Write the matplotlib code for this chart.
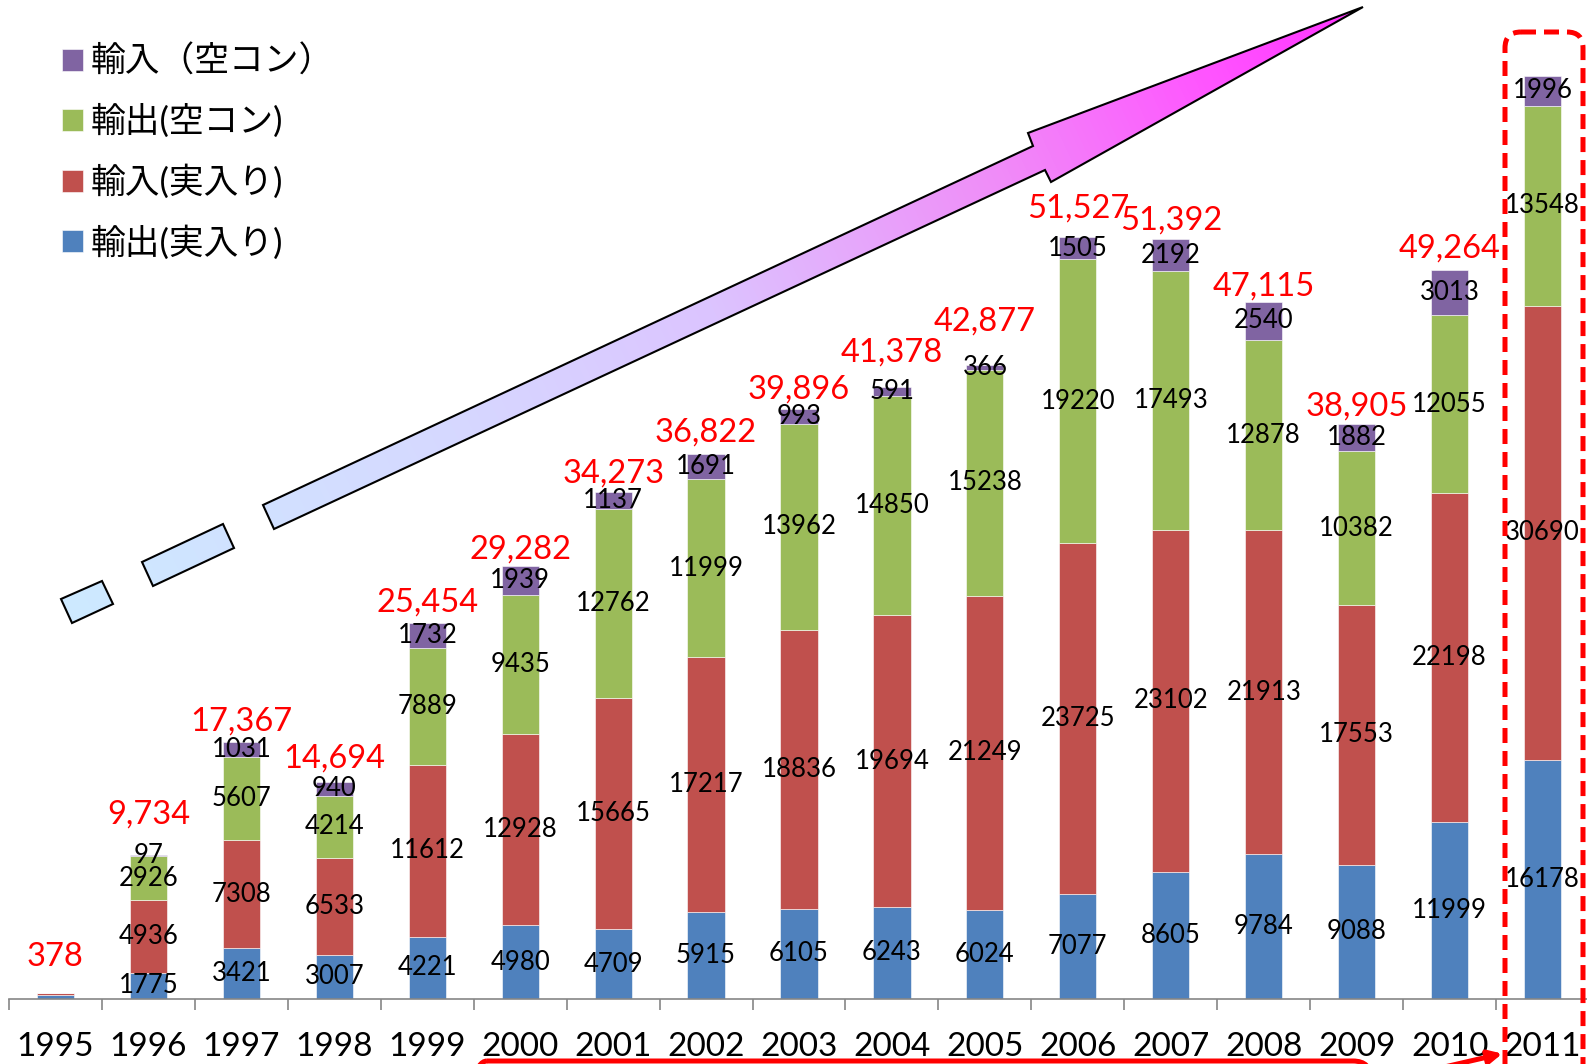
import numpy as np
import matplotlib
matplotlib.use('Agg')
import matplotlib.pyplot as plt
from matplotlib.path import Path
from matplotlib.patches import PathPatch, FancyBboxPatch
from matplotlib.colors import LinearSegmentedColormap

plt.rcParams['font.family'] = ['Lato', 'Noto Sans CJK JP', 'DejaVu Sans']

# data
years = [str(y) for y in range(1995, 2012)]
exp_full = [250, 1775, 3421, 3007, 4221, 4980, 4709, 5915, 6105, 6243, 6024, 7077, 8605, 9784, 9088, 11999, 16178]
imp_full = [128, 4936, 7308, 6533, 11612, 12928, 15665, 17217, 18836, 19694, 21249, 23725, 23102, 21913, 17553, 22198, 30690]
exp_empty = [0, 2926, 5607, 4214, 7889, 9435, 12762, 11999, 13962, 14850, 15238, 19220, 17493, 12878, 10382, 12055, 13548]
imp_empty = [0, 97, 1031, 940, 1732, 1939, 1137, 1691, 993, 591, 366, 1505, 2192, 2540, 1882, 3013, 1996]
totals = [378, 9734, 17367, 14694, 25454, 29282, 34273, 36822, 39896, 41378, 42877,
          51527, 51392, 47115, 38905, 49264, None]
labels = ['輸出(実入り)', '輸入(実入り)', '輸出(空コン)', '輸入（空コン）']
colors = ['#4F81BD', '#C0504D', '#9BBB59', '#8064A2']

# layout: gap (px) between bar top and red total label
gap_px = [36, 41, 21, 23, 20, 16, 19, 22, 19, 35, 43, 28, 18, 16, 17, 22]

W, H = 1587, 1064
fig = plt.figure(figsize=(W / 100, H / 100), dpi=100)
ax = fig.add_axes([9 / W, 65 / H, 1580 / W, 999 / H])

x = np.arange(len(years))
bottom = np.zeros(len(years))
handles = []
for vals, col, lab in zip([exp_full, imp_full, exp_empty, imp_empty], colors, labels):
    vals = np.array(vals, float)
    b = ax.bar(x, vals, 0.4, bottom=bottom, color=col, label=lab,
               edgecolor='white', linewidth=0.4)
    handles.append(b)
    for xi, v, b0, tot in zip(x, vals, bottom, totals):
        if tot is not None and tot < 1000:
            continue
        ax.text(xi, b0 + v / 2, str(int(v)), ha='center', va='center', fontsize=18.5)
    bottom += vals

for xi, tot, g in zip(x, totals, gap_px):
    ax.annotate(f'{tot:,}', (xi, bottom[xi]), xytext=(0, g * 0.72),
                textcoords='offset points', ha='center', va='center',
                color='red', fontsize=23.5)

ax.set_xlim(-0.5, 16.5)
ax.set_ylim(0, 67550)
for s in ['left', 'right', 'top']:
    ax.spines[s].set_visible(False)
ax.spines['bottom'].set_color('#868686')
ax.spines['bottom'].set_linewidth(1.2)
ax.set_yticks([])
ax.set_xticks(np.arange(-0.5, 17, 1))
ax.set_xticklabels([])
ax.tick_params(axis='x', which='major', length=8, width=1.2, color='#868686')
ax.set_xticks(x, minor=True)
ax.set_xticklabels(years, minor=True, fontsize=24)
ax.tick_params(axis='x', which='minor', length=0, pad=24)

ax.legend(handles[::-1], labels[::-1], loc='upper left',
          bbox_to_anchor=(62 / W, 1 - 45 / H), bbox_transform=fig.transFigure,
          frameon=False, fontsize=25, handlelength=0.6, handleheight=0.6,
          handletextpad=0.22, labelspacing=0.75, borderpad=0, borderaxespad=0)

# overlay in pixel coordinates for the decorations
ov = fig.add_axes([0, 0, 1, 1])
ov.set_xlim(0, W)
ov.set_ylim(H, 0)
ov.axis('off')

dash1 = [(61, 599), (102, 581), (113, 604), (72, 623)]
dash2 = [(142, 562), (223, 524), (234, 548), (153, 586)]
body = [(263, 505), (1033, 146), (1028, 133), (1363, 7), (1051, 182), (1045, 170), (274, 529)]
paths = [Path(p + [p[0]], closed=True) for p in (dash1, dash2, body)]
arrow_path = Path.make_compound_path(*paths)
outline = PathPatch(arrow_path, facecolor='none', edgecolor='black', lw=1.5, zorder=3)
ov.add_patch(outline)

yy, xx = np.mgrid[0:H, 0:W]
t = np.clip(((xx - 61) * 0.906 - (yy - 611) * 0.423) / 1437, 0, 1)
cmap = LinearSegmentedColormap.from_list('arr', [(0, '#cdeaff'), (0.3, '#d6d8ff'), (0.5, '#dcc4ff'),
                                                 (0.72, '#f08cf8'), (0.88, '#ff55ff'), (1, '#ff33ff')])
im = ov.imshow(t, cmap=cmap, vmin=0, vmax=1, extent=(0, W, H, 0), aspect='auto', zorder=2)
im.set_clip_path(outline)
ov.set_xlim(0, W)
ov.set_ylim(H, 0)

ov.add_patch(FancyBboxPatch((1505, 32), 78, 1100, boxstyle='round,pad=0,rounding_size=16',
                            fill=False, ec='red', lw=3.6, ls=(0, (3, 1.6)), zorder=4))
ov.add_patch(FancyBboxPatch((469, 1061), 902, 100, boxstyle='round,pad=0,rounding_size=18',
                            fill=False, ec='red', lw=3.6, zorder=4))
ov.annotate('', xy=(1505, 1053), xytext=(1440, 1068),
            arrowprops=dict(arrowstyle='-|>', color='red', lw=3.6, mutation_scale=20))

fig.savefig('out.png', dpi=100)
